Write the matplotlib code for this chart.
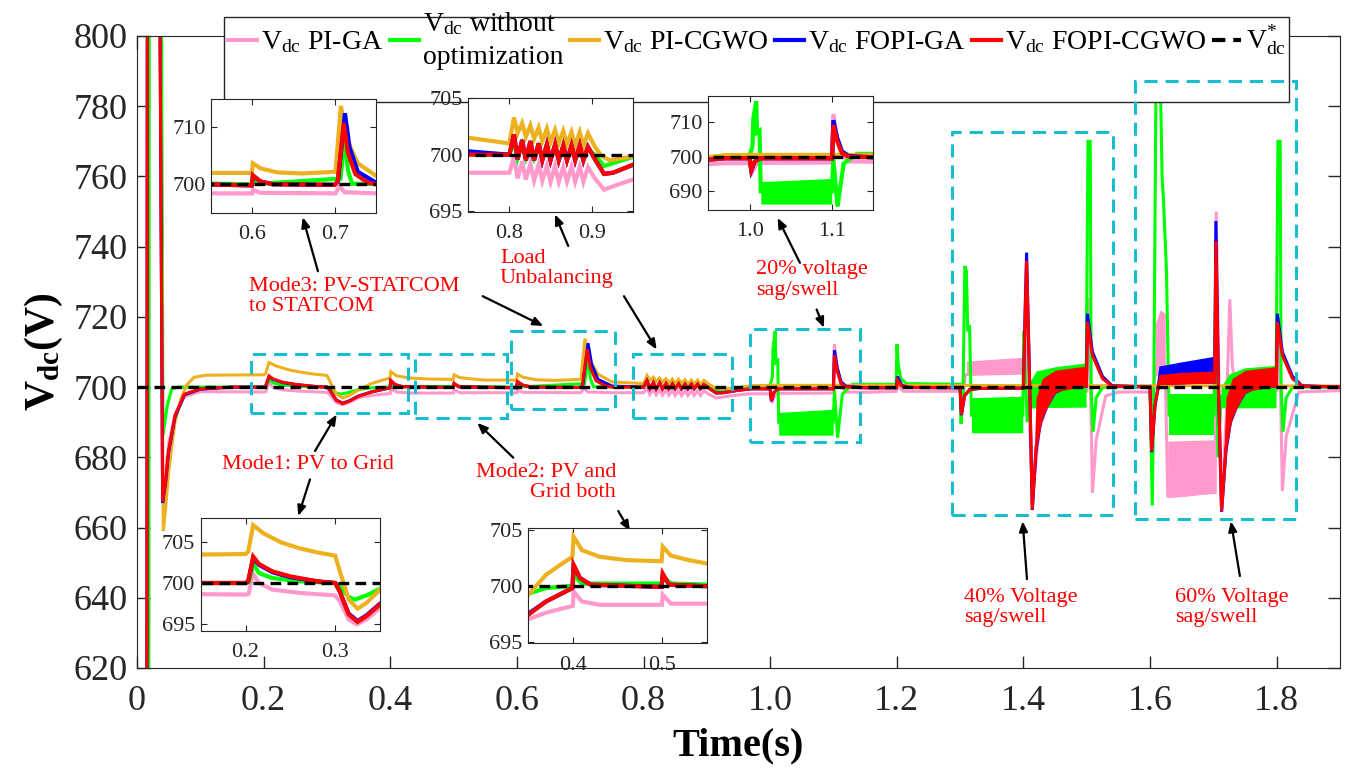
import matplotlib
matplotlib.use("Agg")
import matplotlib.pyplot as plt
from matplotlib.patches import Rectangle

plt.rcParams['font.family'] = 'Liberation Serif'
plt.rcParams['mathtext.fontset'] = 'custom'
plt.rcParams['mathtext.rm'] = 'Liberation Serif'
plt.rcParams['mathtext.it'] = 'Liberation Serif:italic'
plt.rcParams['mathtext.bf'] = 'Liberation Serif:bold'

# ---------------- data (time s, Vdc V) ----------------
# shared time stamps of the load unbalancing ripple (peak, trough, peak ...)
ripple_t = [0.8055, 0.8100, 0.8155, 0.8200, 0.8255, 0.8300, 0.8355, 0.8400, 0.8455, 0.8500,
            0.8555, 0.8600, 0.8655, 0.8700, 0.8755, 0.8800, 0.8855, 0.8900, 0.8955]

# PI-GA (pink)
pi_ga_pre = [(0.0, 560), (0.0155, 560), (0.0165, 850), (0.035, 850), (0.0405, 669), (0.045, 676),
             (0.05, 684), (0.06, 692), (0.075, 697.3), (0.1, 698.7), (0.2, 698.6), (0.2035, 698.7),
             (0.208, 701.2), (0.215, 700.0), (0.23, 699.2), (0.26, 698.8), (0.3, 698.5), (0.305, 697.8),
             (0.315, 695.6), (0.324, 695.0), (0.335, 695.6), (0.35, 697.0), (0.37, 697.6), (0.4, 698.2),
             (0.4008, 699.5), (0.41, 698.6), (0.43, 698.3), (0.5, 698.3), (0.5008, 699.2), (0.51, 698.4),
             (0.6, 698.4), (0.6008, 699.0), (0.61, 698.5), (0.701, 698.4), (0.706, 699.7), (0.712, 698.6),
             (0.75, 698.4), (0.8, 698.4)]
pi_ga_ripple = [699.8, 697.9, 699.4, 697.8, 699.2, 697.7, 699.1, 697.7, 699.0, 697.6,
                699.0, 697.6, 698.9, 697.6, 698.9, 697.6, 698.9, 697.6, 698.9]
pi_ga_post = [(0.903, 698.0), (0.915, 696.9), (0.93, 697.3), (0.95, 697.8), (0.97, 698.1), (1.0, 698.1),
              (1.003, 695.5), (1.008, 697.8), (1.015, 698.2), (1.1, 698.3), (1.1015, 712.3), (1.106, 705.0),
              (1.112, 700.5), (1.12, 698.6), (1.15, 698.5), (1.199, 698.8), (1.201, 700.5), (1.21, 698.8),
              (1.3, 698.8), (1.303, 693.0), (1.308, 703.0), (1.31, 703.6), (1.4, 704.0), (1.4035, 730.0),
              (1.408, 700.0), (1.414, 668.0), (1.425, 688.0), (1.44, 696.0), (1.46, 698.5), (1.5, 698.8),
              (1.5025, 725.5), (1.506, 700.0), (1.509, 669.9), (1.515, 685.0), (1.53, 697.5), (1.55, 698.6),
              (1.6, 698.6), (1.6025, 690.0), (1.608, 705.0), (1.616, 712.0), (1.624, 705.0), (1.628, 669.0),
              (1.703, 670.0), (1.7045, 750.0), (1.709, 700.0), (1.713, 667.0), (1.72, 690.0), (1.726, 725.0),
              (1.73, 706.0), (1.736, 699.0), (1.8, 699.0), (1.8025, 715.0), (1.806, 700.0), (1.809, 670.4),
              (1.815, 686.0), (1.835, 698.6), (1.9, 699.0)]
pi_ga_bands = [([1.31, 1.35, 1.4], [703.5, 703.7, 704.0], [707.4, 707.9, 708.5]),
               ([1.608, 1.616, 1.624], [703.0, 704.0, 705.0], [718.0, 722.0, 721.0]),
               ([1.628, 1.66, 1.703], [668.5, 669.0, 670.0], [684.6, 684.8, 685.0])]

# without optimization (green)
wo_pre = [(0.0, 560), (0.0185, 560), (0.0195, 850), (0.038, 850), (0.041, 686.5), (0.044, 690.0),
          (0.048, 695.0), (0.055, 699.5), (0.065, 700.0), (0.2, 700.0), (0.2035, 700.1), (0.2085, 702.3),
          (0.215, 701.2), (0.23, 700.6), (0.26, 700.2), (0.3, 700.0), (0.305, 699.6), (0.315, 698.3),
          (0.322, 698.0), (0.335, 698.5), (0.35, 699.3), (0.37, 699.8), (0.4, 700.0), (0.4008, 701.0),
          (0.41, 700.2), (0.5, 700.2), (0.5008, 700.8), (0.51, 700.2), (0.6, 700.0), (0.6008, 700.8),
          (0.61, 700.1), (0.707, 701.0), (0.7124, 708.4), (0.716, 702.5), (0.721, 700.1), (0.8, 700.0)]
wo_ripple = [701.2, 699.7, 700.9, 699.7, 700.8, 699.7, 700.7, 699.7, 700.6, 699.7,
             700.6, 699.7, 700.5, 699.7, 700.5, 699.7, 700.5, 699.7, 700.5]
wo_post = [(0.905, 699.9), (0.915, 699.0), (0.95, 699.8), (0.97, 700.3), (1.0, 700.3), (1.0035, 703.0),
           (1.0045, 711.0), (1.008, 716.0), (1.009, 707.0), (1.012, 707.5), (1.0135, 690.0), (1.0995, 690.0),
           (1.1016, 699.0), (1.1065, 685.6), (1.114, 698.0), (1.13, 700.8), (1.199, 700.8), (1.2003, 712.2),
           (1.202, 707.0), (1.206, 702.5), (1.215, 701.0), (1.3, 700.8), (1.3015, 689.6), (1.3045, 697.0),
           (1.3075, 734.5), (1.31, 733.0), (1.312, 716.5), (1.315, 717.0), (1.318, 692.0), (1.399, 692.0),
           (1.4005, 716.0), (1.406, 690.0), (1.41, 697.0), (1.42, 699.0), (1.499, 700.0), (1.502, 770.0),
           (1.5055, 770.0), (1.507, 700.0), (1.51, 687.3), (1.515, 697.0), (1.525, 700.0), (1.6, 700.2),
           (1.6035, 666.3), (1.606, 700.0), (1.6095, 790.0), (1.616, 790.0), (1.619, 760.0), (1.621, 754.0),
           (1.626, 733.0), (1.63, 692.0), (1.701, 692.0), (1.7035, 725.0), (1.7075, 680.0), (1.712, 697.0),
           (1.72, 699.0), (1.799, 700.0), (1.802, 770.0), (1.8055, 770.0), (1.807, 700.0), (1.81, 687.3),
           (1.815, 697.0), (1.825, 700.0), (1.9, 700.0)]
wo_bands = [([1.0135, 1.0995], [686.3, 686.3], [692.8, 693.7]),
            ([1.318, 1.399], [687.0, 687.0], [697.0, 697.4]),
            ([1.407, 1.42, 1.45, 1.499], [694.0, 694.1, 694.2, 694.3], [700.5, 704.6, 705.8, 706.9]),
            ([1.63, 1.701], [686.3, 686.3], [698.0, 698.0]),
            ([1.712, 1.725, 1.75, 1.799], [694.1, 694.1, 694.1, 694.1], [700.0, 703.8, 705.5, 706.2])]

# PI-CGWO (orange)
pi_cgwo_pre = [(0.0, 560), (0.0155, 560), (0.0165, 850), (0.035, 850), (0.0415, 659.0), (0.045, 665.0),
               (0.05, 676.0), (0.06, 690.0), (0.07, 697.0), (0.078, 700.5), (0.09, 702.8), (0.11, 703.4),
               (0.2, 703.5), (0.203, 703.8), (0.2085, 707.0), (0.22, 706.0), (0.24, 704.9), (0.26, 704.2),
               (0.28, 703.7), (0.3, 703.3), (0.305, 701.5), (0.315, 698.0), (0.325, 696.9), (0.335, 697.6),
               (0.35, 699.2), (0.37, 701.0), (0.39, 702.1), (0.3995, 702.6), (0.4008, 704.4), (0.41, 703.2),
               (0.43, 702.6), (0.46, 702.3), (0.4995, 702.2), (0.5008, 703.5), (0.51, 702.7), (0.53, 702.3),
               (0.55, 702.0), (0.5995, 702.0), (0.6008, 703.7), (0.61, 702.8), (0.63, 702.1), (0.66, 701.9),
               (0.701, 702.2), (0.7075, 713.8), (0.715, 707.8), (0.728, 703.7), (0.75, 701.5), (0.8, 701.0)]
pi_cgwo_ripple = [703.3, 701.9, 702.8, 701.6, 702.6, 701.4, 702.4, 701.2, 702.3, 701.1,
                  702.2, 701.0, 702.1, 700.9, 702.0, 700.8, 702.0, 700.8, 701.9]
pi_cgwo_post = [(0.904, 700.7), (0.912, 699.9), (0.922, 699.5), (0.95, 699.85), (0.97, 700.4),
                (1.0, 700.5), (1.15, 700.5), (1.9, 700.3)]
pi_cgwo_bands = []

# FOPI-GA (blue)
fopi_ga_pre = [(0.0, 560), (0.0155, 560), (0.0165, 850), (0.035, 850), (0.0405, 667.0), (0.045, 672.5),
               (0.05, 681.5), (0.06, 691.5), (0.075, 697.8), (0.1, 699.4), (0.15, 700.0), (0.2, 700.0),
               (0.203, 700.2), (0.2085, 703.0), (0.215, 702.2), (0.23, 701.3), (0.25, 700.7), (0.28, 700.2),
               (0.3, 700.0), (0.305, 699.0), (0.315, 696.3), (0.325, 695.4), (0.335, 696.1), (0.35, 697.5),
               (0.37, 698.6), (0.3995, 699.8), (0.4008, 701.8), (0.408, 700.7), (0.42, 700.1), (0.4995, 699.9),
               (0.5008, 701.0), (0.508, 700.1), (0.5995, 699.8), (0.6008, 701.5), (0.61, 700.5), (0.625, 700.0),
               (0.7, 699.9), (0.704, 700.5), (0.7124, 712.5), (0.718, 706.5), (0.728, 702.2), (0.75, 700.3),
               (0.8, 700.0)]
fopi_ga_ripple = [701.8, 699.6, 701.3, 699.5, 701.2, 699.5, 701.0, 699.5, 700.9, 699.5,
                  700.9, 699.5, 700.8, 699.5, 700.8, 699.5, 700.8, 699.5, 700.7]
fopi_ga_post = [(0.904, 699.6), (0.915, 698.3), (0.926, 698.4), (0.95, 699.1), (0.97, 699.5), (1.0, 699.5),
                (1.002, 696.0), (1.006, 698.5), (1.012, 699.5), (1.1, 699.5), (1.1015, 710.5), (1.106, 705.5),
                (1.112, 701.5), (1.12, 700.2), (1.15, 699.8), (1.1995, 699.8), (1.201, 703.0), (1.208, 700.5),
                (1.22, 699.9), (1.3, 699.8), (1.302, 692.0), (1.307, 697.5), (1.315, 699.3), (1.33, 699.6),
                (1.4, 699.7), (1.405, 738.3), (1.41, 700.0), (1.414, 665.0), (1.42, 682.0), (1.427, 690.0),
                (1.437, 694.5), (1.45, 698.5), (1.47, 700.0), (1.4995, 700.3), (1.501, 720.9), (1.509, 710.0),
                (1.525, 703.0), (1.54, 700.4), (1.6, 700.0), (1.6025, 681.5), (1.608, 695.0), (1.614, 701.0),
                (1.702, 701.5), (1.704, 747.3), (1.708, 700.0), (1.713, 664.5), (1.72, 682.0), (1.727, 690.0),
                (1.737, 694.5), (1.75, 698.5), (1.77, 700.0), (1.7995, 700.3), (1.801, 720.9), (1.809, 710.0),
                (1.825, 703.0), (1.84, 700.4), (1.9, 700.0)]
fopi_ga_bands = [([1.608, 1.614, 1.65, 1.702], [695.0, 700.8, 701.0, 701.2], [698.0, 706.0, 707.2, 708.8])]

# FOPI-CGWO (red)
fopi_cgwo_pre = [(0.0, 560), (0.0155, 560), (0.0165, 850), (0.035, 850), (0.0405, 667.5), (0.045, 673.0),
                 (0.05, 682.0), (0.06, 692.0), (0.075, 698.0), (0.1, 699.5), (0.15, 700.0), (0.2, 700.0),
                 (0.203, 700.2), (0.2085, 703.2), (0.215, 702.3), (0.23, 701.4), (0.25, 700.8), (0.28, 700.2),
                 (0.3, 700.0), (0.305, 699.0), (0.315, 696.2), (0.325, 695.3), (0.335, 696.0), (0.35, 697.4),
                 (0.37, 698.6), (0.3995, 699.8), (0.4008, 701.9), (0.408, 700.7), (0.42, 700.1), (0.4995, 699.9),
                 (0.5008, 701.1), (0.508, 700.1), (0.5995, 699.8), (0.6008, 701.6), (0.61, 700.5), (0.625, 700.0),
                 (0.7, 699.9), (0.7035, 700.5), (0.711, 710.8), (0.716, 705.5), (0.725, 701.8), (0.74, 700.3),
                 (0.75, 700.0), (0.8, 700.0)]
fopi_cgwo_ripple = [701.8, 699.6, 701.3, 699.5, 701.2, 699.5, 701.0, 699.5, 700.9, 699.5,
                    700.9, 699.5, 700.8, 699.5, 700.8, 699.5, 700.8, 699.5, 700.7]
fopi_cgwo_post = [(0.904, 699.6), (0.915, 698.3), (0.926, 698.4), (0.95, 699.1), (0.97, 699.5), (1.0, 699.5),
                  (1.002, 696.2), (1.006, 698.5), (1.012, 699.5), (1.1, 699.5), (1.1015, 709.1), (1.106, 704.5),
                  (1.112, 701.0), (1.12, 700.0), (1.15, 699.8), (1.1995, 699.8), (1.201, 702.0), (1.208, 700.3),
                  (1.22, 699.9), (1.3, 699.8), (1.302, 692.2), (1.307, 697.5), (1.315, 699.3), (1.33, 699.6),
                  (1.4, 699.7), (1.405, 736.0), (1.41, 700.0), (1.414, 665.2), (1.42, 683.0), (1.427, 690.5),
                  (1.437, 695.0), (1.45, 698.7), (1.47, 700.0), (1.4995, 700.3), (1.501, 718.6), (1.509, 709.0),
                  (1.525, 702.4), (1.54, 700.3), (1.6, 700.0), (1.6025, 681.8), (1.608, 695.0), (1.614, 701.0),
                  (1.702, 701.5), (1.704, 741.6), (1.708, 700.0), (1.713, 664.7), (1.72, 683.0), (1.727, 690.5),
                  (1.737, 695.0), (1.75, 698.7), (1.77, 700.0), (1.7995, 700.3), (1.801, 718.6), (1.809, 709.0),
                  (1.825, 702.4), (1.84, 700.3), (1.9, 700.0)]
fopi_cgwo_bands = [([1.414, 1.42, 1.43, 1.45, 1.499], [665.2, 683.0, 691.5, 698.7, 700.3], [665.2, 697.0, 702.5, 704.8, 706.0]),
                   ([1.608, 1.614, 1.65, 1.702], [695.0, 700.8, 701.0, 701.2], [697.0, 703.6, 704.2, 704.6]),
                   ([1.713, 1.72, 1.73, 1.75, 1.799], [664.7, 683.0, 691.5, 698.7, 700.3], [664.7, 697.0, 702.5, 704.8, 705.8])]

# reference
ref_t = [0.0, 1.9]
ref_v = [700, 700]

labels = [r'$\mathrm{V_{dc}}$ PI-GA',
          r'$\mathrm{V_{dc}}$ without' + '\n' + 'optimization',
          r'$\mathrm{V_{dc}}$ PI-CGWO',
          r'$\mathrm{V_{dc}}$ FOPI-GA',
          r'$\mathrm{V_{dc}}$ FOPI-CGWO',
          r'$\mathrm{V_{dc}^{*}}$']
colors = ['#FF99CC', '#00FF00', '#EDB120', '#0000FF', '#FF0000', 'black']

series = [(pi_ga_pre, pi_ga_ripple, pi_ga_post, pi_ga_bands),
          (wo_pre, wo_ripple, wo_post, wo_bands),
          (pi_cgwo_pre, pi_cgwo_ripple, pi_cgwo_post, pi_cgwo_bands),
          (fopi_ga_pre, fopi_ga_ripple, fopi_ga_post, fopi_ga_bands),
          (fopi_cgwo_pre, fopi_cgwo_ripple, fopi_cgwo_post, fopi_cgwo_bands)]

# dashed highlight boxes (t0, t1, v0, v1)
boxes = [(0.1797, 0.4283, 692.5, 709.3), (0.439, 0.584, 691.3, 709.3), (0.5907, 0.755, 693.9, 716.0),
         (0.7838, 0.939, 691.1, 709.3), (0.968, 1.1418, 684.3, 716.6), (1.287, 1.541, 663.7, 772.6),
         (1.576, 1.831, 662.3, 787.2)]

notes = [('Mode3: PV-STATCOM\nto STATCOM', 0.1769, 725.8, 'left'),
         ('Load\nUnbalancing', 0.5733, 733.8, 'left'),
         ('20% voltage\nsag/swell', 0.9776, 730.5, 'left'),
         ('Mode1: PV to Grid', 0.1342, 678.1, 'left'),
         ('Mode2: PV and\nGrid both', 0.7565, 672.9, 'right'),
         ('40% Voltage\nsag/swell', 1.306, 637.2, 'left'),
         ('60% Voltage\nsag/swell', 1.6393, 637.2, 'left')]

arrows = [((0.2858, 733.0), (0.2617, 748.4)), ((0.546, 725.9), (0.6417, 717.4)),
          ((0.6811, 740.2), (0.6601, 749.2)), ((0.7691, 725.9), (0.8207, 710.7)),
          ((1.047, 735.4), (1.0118, 748.2)), ((1.0734, 722.1), (1.085, 716.9)),
          ((0.2811, 681.8), (0.3154, 692.2)), ((0.2732, 673.7), (0.2547, 663.3)),
          ((0.5943, 679.9), (0.5374, 689.8)), ((0.7601, 664.7), (0.7786, 659.0)),
          ((1.4056, 645.3), (1.3988, 661.8)), ((1.7419, 646.2), (1.7277, 661.8))]

# inset: [left, bottom, width, height], xlim, ylim, xticks, yticks
insets = [([0.1565, 0.7259, 0.1224, 0.1465], (0.55, 0.75), (695, 715), [0.6, 0.7], [700, 710]),
          ([0.3474, 0.7272, 0.1220, 0.1469], (0.75, 0.95), (694.95, 705.05), [0.8, 0.9], [695, 700, 705]),
          ([0.5255, 0.7294, 0.1224, 0.1469], (0.95, 1.15), (684.6, 717.5), [1.0, 1.1], [690, 700, 710]),
          ([0.1489, 0.1869, 0.1330, 0.1460], (0.15, 0.35), (694.2, 707.9), [0.2, 0.3], [695, 700, 705]),
          ([0.3919, 0.1710, 0.1323, 0.1482], (0.35, 0.55), (694.85, 705.15), [0.4, 0.5], [695, 700, 705])]

AXC = '#262626'


def draw_curves(ax, lw):
    handles = []
    for i, (pre, rip, post, bands) in enumerate(series):
        t = [p[0] for p in pre] + ripple_t + [p[0] for p in post]
        v = [p[1] for p in pre] + rip + [p[1] for p in post]
        z = 2 + 0.1 * i
        ln, = ax.plot(t, v, color=colors[i], lw=lw, zorder=z, solid_joinstyle='miter')
        for bt, lo, hi in bands:
            ax.fill_between(bt, lo, hi, color=colors[i], lw=0, zorder=z)
        handles.append(ln)
    ln, = ax.plot(ref_t, ref_v, color='black', lw=2.4, ls=(0, (3.2, 1.9)), zorder=2.6)
    handles.append(ln)
    return handles


fig = plt.figure(figsize=(13.48, 7.76), dpi=100)
ax = fig.add_axes([0.10163, 0.13918, 0.89243, 0.81443])
handles = draw_curves(ax, 2.2)

ax.set_xlim(0, 1.9)
ax.set_ylim(620, 800)
ax.set_xticks([0, 0.2, 0.4, 0.6, 0.8, 1.0, 1.2, 1.4, 1.6, 1.8])
ax.set_xticklabels(['0', '0.2', '0.4', '0.6', '0.8', '1.0', '1.2', '1.4', '1.6', '1.8'])
ax.set_yticks(range(620, 801, 20))
ax.tick_params(direction='in', top=True, right=True, length=9, width=1, labelsize=26,
               pad=7, colors=AXC)
ax.tick_params(axis='x', pad=12)
for s in ax.spines.values():
    s.set_color(AXC)
ax.set_xlabel('Time(s)', fontsize=29, fontweight='bold', labelpad=7)
ax.set_ylabel(r'$\mathbf{V_{dc}}$(V)', fontsize=30, fontweight='bold', labelpad=6)

# legend box drawn by hand so it can reach above the axes like the original
ax.add_patch(Rectangle((0.0723, 0.8956), 0.8857, 0.1344, transform=ax.transAxes, clip_on=False,
                       facecolor='white', edgecolor=AXC, lw=1.0, zorder=4.9))
leg = ax.legend(handles, labels, loc='upper left', bbox_to_anchor=(0.0723, 1.048), ncol=6,
                fontsize=20, frameon=False, handlelength=1.05, handletextpad=0.15,
                columnspacing=0.22, borderpad=0.15, borderaxespad=0)
leg.set_zorder(5)
for ln in leg.get_lines():
    ln.set_linewidth(3)
leg.get_texts()[1].set_linespacing(1.45)

for t0, t1, v0, v1 in boxes:
    ax.add_patch(Rectangle((t0, v0), t1 - t0, v1 - v0, fill=False, edgecolor='#17BECF',
                           lw=2.2, ls=(0, (4.3, 2.6)), zorder=6))

for txt, x, y, ha in notes:
    ax.text(x, y, txt, color='red', fontsize=16, ha=ha, va='center', multialignment=ha,
            linespacing=1.1, zorder=7)

for tail, head in arrows:
    ax.annotate('', xy=head, xytext=tail,
                arrowprops=dict(arrowstyle='-|>,head_length=0.6,head_width=0.25', color='black',
                                lw=1.6, shrinkA=0, shrinkB=0), zorder=7)

for pos, xl, yl, xt, yt in insets:
    axi = fig.add_axes(pos)
    draw_curves(axi, 3)
    axi.set_xlim(*xl)
    axi.set_ylim(*yl)
    axi.set_xticks(xt)
    axi.set_xticklabels(['%.1f' % v for v in xt])
    axi.set_yticks(yt)
    axi.tick_params(direction='in', top=True, right=True, length=4, width=0.8, labelsize=16,
                    pad=4, colors=AXC)
    axi.tick_params(axis='x', pad=9)
    for s in axi.spines.values():
        s.set_color(AXC)
        s.set_linewidth(0.8)

fig.savefig('out.png', dpi=100)
